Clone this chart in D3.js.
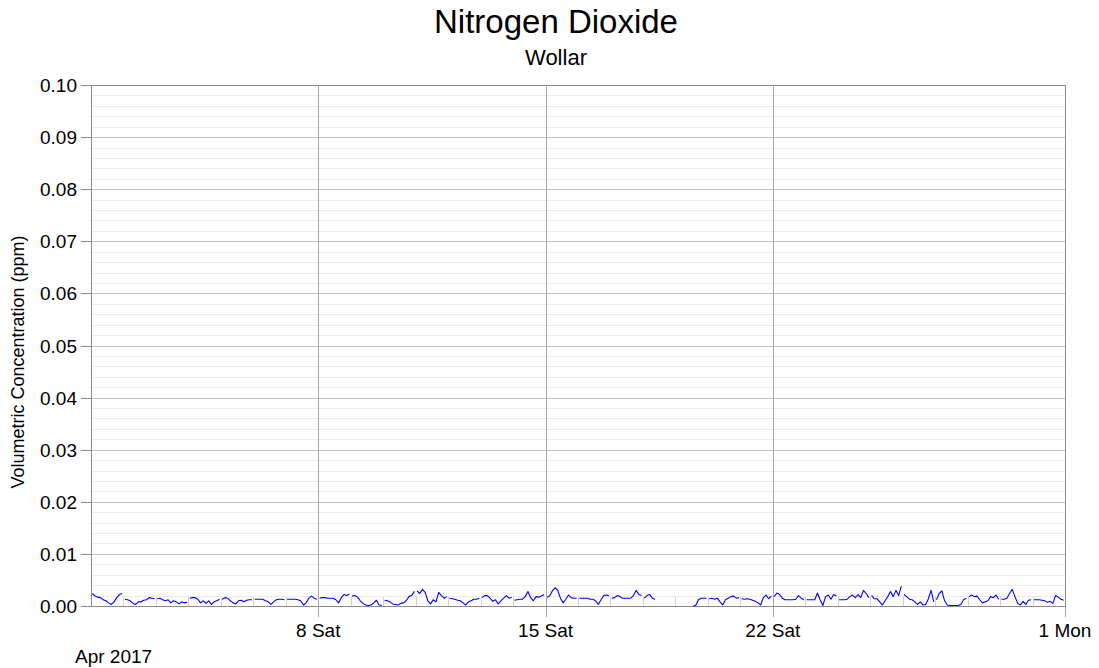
<!DOCTYPE html>
<html>
<head>
<meta charset="utf-8">
<script src="https://cdn.jsdelivr.net/npm/d3@7"></script>
<style>
  body { margin: 0; background: #fff; }
  svg { display: block; font-family: "Liberation Sans", Arial, Helvetica, sans-serif; }
</style>
</head>
<body>
<svg id="chart" width="1099" height="668"></svg>
<script>
// chart text
const title = "Nitrogen Dioxide";
const subtitle = "Wollar";
const yLabel = "Volumetric Concentration (ppm)";
const monthLabel = "Apr 2017";

// axis setup
const yDomain = [0, 0.1];
const yMajorStep = 0.01;
const yMinorStep = 0.002;
const xStart = new Date(2017, 3, 1);
const xEnd = new Date(2017, 4, 1);
const xMajorTicks = [new Date(2017, 3, 8), new Date(2017, 3, 15), new Date(2017, 3, 22), new Date(2017, 4, 1)];

// readings every other hour, in ppb (1 ppb = 0.001 ppm), one row per day of April
// midnight value is missing every day (calibration), null = no data
const readingHours = [1, 3, 5, 7, 9, 11, 13, 15, 17, 19, 21, 23];
const dayReadings = [
  [2.4,1.9,1.7,1.6,1.2,1.0,0.6,0.3,0.8,1.6,2.2,2.4],  // 1
  [1.3,1.2,1.0,0.5,0.3,0.8,0.8,1.1,1.2,1.6,1.5,1.4],  // 2
  [1.4,1.5,1.2,1.0,1.2,0.6,1.0,0.8,0.4,0.8,0.6,0.7],  // 3
  [1.5,1.6,1.6,1.3,0.6,1.0,0.5,1.0,0.3,0.8,1.0,1.3],  // 4
  [1.3,1.6,1.5,1.0,0.6,0.4,1.0,1.1,0.8,1.1,1.2,1.2],  // 5
  [1.3,1.3,1.3,1.3,1.0,0.8,0.3,0.8,1.2,1.3,1.3,1.2],  // 6
  [1.3,1.3,1.3,1.3,1.2,1.0,0.2,0.6,1.5,1.9,1.5,1.3],  // 7
  [1.5,1.6,1.6,1.5,1.5,1.5,1.2,0.6,1.6,2.2,2.0,2.3],  // 8
  [1.9,2.0,1.7,1.0,0.5,0.2,0.1,0.2,0.6,1.1,0.2,0.1],  // 9
  [1.1,1.0,0.8,0.4,0.3,0.2,0.5,0.6,1.0,1.8,2.0,2.8],  // 10
  [2.9,2.4,3.2,2.6,1.0,0.4,1.2,0.8,2.6,2.0,1.5,1.8],  // 11
  [1.5,1.4,1.3,1.1,1.0,0.6,0.2,0.8,1.0,1.3,1.3,1.5],  // 12
  [1.6,2.0,2.0,1.5,0.9,1.2,0.4,1.0,1.5,2.0,1.5,1.7],  // 13
  [1.1,1.2,1.3,1.3,1.8,2.8,1.6,1.0,1.8,1.7,1.9,2.2],  // 14
  [1.7,1.9,2.9,3.5,3.0,1.5,0.6,1.3,2.1,1.6,1.5,1.5],  // 15
  [1.5,1.5,1.5,1.5,1.3,1.3,1.0,0.3,1.2,2.0,2.1,1.9],  // 16
  [1.5,1.6,2.0,1.8,1.5,1.5,1.5,1.5,2.0,3.0,2.2,2.0],  // 17
  [1.5,2.0,2.2,1.5,1.3,null,null,null,null,null,null,null],  // 18
  [null,null,null,null,null,null,0.0,0.1,1.2,1.5,1.5,1.5],  // 19
  [1.4,1.5,1.3,1.5,0.8,0.2,1.2,1.5,1.8,1.9,1.5,1.6],  // 20
  [1.4,1.3,1.4,1.3,1.1,0.9,0.6,0.2,1.6,2.1,1.4,1.9],  // 21
  [1.8,2.5,2.2,1.5,1.2,1.2,1.2,1.2,1.3,2.0,1.5,1.2],  // 22
  [1.2,1.2,1.2,1.2,2.5,1.2,0.1,1.8,2.1,1.3,2.2,1.9],  // 23
  [1.2,1.2,1.2,1.3,1.8,2.1,1.6,2.2,1.6,3.0,2.4,1.6],  // 24
  [2.0,1.4,1.4,0.8,0.2,1.0,1.8,2.8,1.8,3.0,2.0,3.8],  // 25
  [2.2,1.8,1.3,1.2,0.8,0.3,0.8,0.2,0.3,1.4,3.0,0.8],  // 26
  [1.2,2.4,2.9,1.0,0.2,0.1,0.1,0.1,0.1,0.3,1.2,1.5],  // 27
  [1.8,2.1,1.8,1.9,1.2,0.6,0.8,1.0,1.8,1.6,2.1,1.3],  // 28
  [1.3,1.3,1.5,2.4,3.2,1.8,0.5,0.2,0.9,0.3,1.1,1.2],  // 29
  [1.2,1.2,1.2,1.1,1.0,0.7,0.9,0.5,2.0,1.7,1.3,1.1]   // 30
];

// flatten into one time series (ppm), midnight slot kept as a gap
const series = [];
dayReadings.forEach((row, i) => {
  series.push({ date: new Date(2017, 3, i + 1, 0), value: null });
  row.forEach((v, j) => {
    series.push({
      date: new Date(2017, 3, i + 1, readingHours[j]),
      value: v == null ? null : v / 1000
    });
  });
});

const svg = d3.select("#chart");
const margin = { top: 85, right: 34, bottom: 62, left: 91 };
const W = +svg.attr("width"), H = +svg.attr("height");
const plotW = W - margin.left - margin.right;
const plotH = H - margin.top - margin.bottom;

const x = d3.scaleTime().domain([xStart, xEnd]).range([margin.left, margin.left + plotW]);
const y = d3.scaleLinear().domain(yDomain).range([margin.top + plotH, margin.top]);

const yMajor = d3.range(yDomain[0], yDomain[1] + 1e-9, yMajorStep);
const yMinor = d3.range(yDomain[0], yDomain[1] + 1e-9, yMinorStep)
  .filter(v => Math.abs(v / yMajorStep - Math.round(v / yMajorStep)) > 1e-6);
const dayTicks = d3.timeDay.range(xStart, xEnd).slice(1);

// minor horizontal grid
svg.append("g").selectAll("line")
  .data(yMinor).join("line")
  .attr("x1", margin.left).attr("x2", margin.left + plotW)
  .attr("y1", d => Math.round(y(d)) + 0.5).attr("y2", d => Math.round(y(d)) + 0.5)
  .attr("stroke", "#ebebeb").attr("stroke-width", 1);

// major horizontal grid
svg.append("g").selectAll("line")
  .data(yMajor).join("line")
  .attr("x1", margin.left).attr("x2", margin.left + plotW)
  .attr("y1", d => Math.round(y(d)) + 0.5).attr("y2", d => Math.round(y(d)) + 0.5)
  .attr("stroke", "#c4c4c4").attr("stroke-width", 1);

// daily minor ticks inside plot
svg.append("g").selectAll("line")
  .data(dayTicks).join("line")
  .attr("x1", d => Math.round(x(d)) + 0.5).attr("x2", d => Math.round(x(d)) + 0.5)
  .attr("y1", margin.top + plotH - 9).attr("y2", margin.top + plotH)
  .attr("stroke", "#cfcfcf").attr("stroke-width", 1);

// weekly vertical grid + ticks below axis
svg.append("g").selectAll("line")
  .data(xMajorTicks).join("line")
  .attr("x1", d => Math.round(x(d)) + 0.5).attr("x2", d => Math.round(x(d)) + 0.5)
  .attr("y1", margin.top).attr("y2", margin.top + plotH + 11)
  .attr("stroke", "#a8a8a8").attr("stroke-width", 1);

// y tick marks
svg.append("g").selectAll("line")
  .data(yMajor).join("line")
  .attr("x1", margin.left - 10).attr("x2", margin.left)
  .attr("y1", d => Math.round(y(d)) + 0.5).attr("y2", d => Math.round(y(d)) + 0.5)
  .attr("stroke", "#8a8a8a").attr("stroke-width", 1);

// frame
svg.append("rect")
  .attr("x", margin.left + 0.5).attr("y", margin.top + 0.5)
  .attr("width", plotW).attr("height", plotH)
  .attr("fill", "none").attr("stroke", "#8a8a8a").attr("stroke-width", 1);

// the data line
const line = d3.line()
  .defined(d => d.value != null)
  .x(d => x(d.date))
  .y(d => y(d.value));

svg.append("path")
  .datum(series)
  .attr("d", line)
  .attr("fill", "none")
  .attr("stroke", "#0000ff")
  .attr("stroke-width", 1.1)
  .attr("stroke-linejoin", "round");

// y tick labels
const fmtY = d3.format(".2f");
svg.append("g").selectAll("text")
  .data(yMajor).join("text")
  .attr("x", margin.left - 14)
  .attr("y", d => y(d) + 7)
  .attr("text-anchor", "end")
  .attr("font-size", 19)
  .attr("fill", "#000")
  .text(d => fmtY(d));

// x tick labels
const fmtX = d3.timeFormat("%-d %a");
svg.append("g").selectAll("text")
  .data(xMajorTicks).join("text")
  .attr("x", d => x(d))
  .attr("y", margin.top + plotH + 31)
  .attr("text-anchor", "middle")
  .attr("font-size", 19)
  .attr("fill", "#000")
  .text(d => fmtX(d));

svg.append("text")
  .attr("x", 75).attr("y", 663)
  .attr("font-size", 19)
  .text(monthLabel);

// titles
svg.append("text")
  .attr("x", 556).attr("y", 33)
  .attr("text-anchor", "middle")
  .attr("font-size", 33)
  .text(title);

svg.append("text")
  .attr("x", 556).attr("y", 65)
  .attr("text-anchor", "middle")
  .attr("font-size", 22)
  .text(subtitle);

svg.append("text")
  .attr("transform", "translate(24,362) rotate(-90)")
  .attr("text-anchor", "middle")
  .attr("font-size", 18)
  .text(yLabel);
</script>
</body>
</html>
